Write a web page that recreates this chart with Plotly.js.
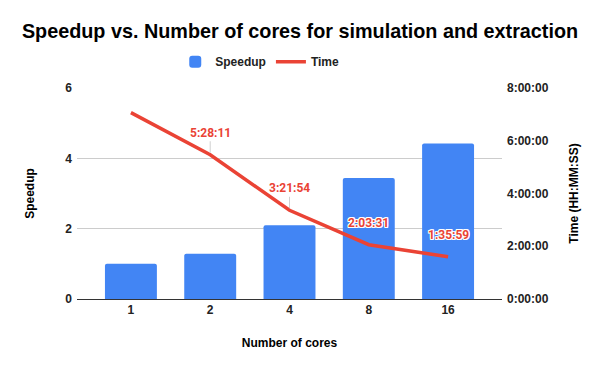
<!DOCTYPE html>
<html>
<head>
<meta charset="utf-8">
<script src="https://cdn.plot.ly/plotly-3.0.1.min.js"></script>
<style>
  html, body { margin: 0; padding: 0; background: #fff; }
  #myDiv { width: 600px; height: 371px; }
</style>
</head>
<body>
<div id="myDiv"></div>
<script>
// Datos
var cores = ['1', '2', '4', '8', '16'];
var speedup = [1.0, 1.29, 2.10, 3.44, 4.42];
var timeSec = [25440, 19691, 12114, 7411, 5759]; // segundos
var showLabel = [false, true, true, true, true];
var timeTicks = [0, 7200, 14400, 21600, 28800];

var speedMax = 6, timeMax = 28800;

// Funcion para pasar segundos a H:MM:SS
function hms(s) {
    var h = Math.floor(s / 3600),
        m = Math.floor((s % 3600) / 60),
        sec = Math.round(s % 60);
    return h + ':' + String(m).padStart(2, '0') + ':' + String(sec).padStart(2, '0');
}

var bold = 'Liberation Sans, Arial, sans-serif';

var traceBar = {
    x: cores,
    y: speedup,
    name: 'Speedup',
    type: 'bar',
    marker: { color: '#4285f4', cornerradius: 2 },
    hoverinfo: 'skip'
};
var traceLine = {
    x: cores,
    y: timeSec,
    name: 'Time',
    yaxis: 'y2',
    mode: 'lines',
    line: { color: '#ea4335', width: 3.5 },
    hoverinfo: 'skip'
};

// Etiquetas de tiempo (x por indice de categoria)
var annotations = [];
for (var i = 0; i < cores.length; i++) {
    if (!showLabel[i]) continue;
    var inside = timeSec[i] / timeMax < speedup[i] / speedMax;
    annotations.push({
        x: i,
        y: timeSec[i],
        xref: 'x',
        yref: 'y2',
        text: hms(timeSec[i]),
        showarrow: true,
        arrowhead: 0,
        arrowwidth: 1,
        arrowcolor: inside ? 'rgba(255,255,255,0)' : '#d0d0d0',
        ax: 0,
        ay: -22,
        standoff: 2,
        font: {
            family: 'Roboto, sans-serif',
            size: 12,
            weight: 'bold',
            color: '#ea4335',
            shadow: inside ? '1px 1px 0 #fff, -1px -1px 0 #fff, 1px -1px 0 #fff, -1px 1px 0 #fff, 0 1px 0 #fff, 0 -1px 0 #fff, 1px 0 0 #fff, -1px 0 0 #fff' : 'none'
        }
    });
}

var layout = {
    width: 600,
    height: 371,
    margin: { l: 77, r: 98, t: 88, b: 72 },
    paper_bgcolor: '#fff',
    plot_bgcolor: '#fff',
    title: {
        text: 'Speedup vs. Number of cores for simulation and extraction',
        font: { family: bold, size: 19.8, weight: 'bold', color: '#000' },
        x: 0.5,
        xanchor: 'center',
        y: 0.915,
        yanchor: 'middle'
    },
    showlegend: true,
    legend: {
        orientation: 'h',
        x: 0.43,
        xanchor: 'center',
        y: 1.125,
        yanchor: 'middle',
        font: { family: bold, size: 12, weight: 'bold', color: '#222' },
        itemwidth: 30
    },
    bargap: 0.345,
    xaxis: {
        type: 'category',
        range: [-0.68, 4.68],
        showgrid: false,
        showline: true,
        linecolor: '#333',
        linewidth: 1,
        ticks: '',
        tickfont: { family: bold, size: 12, weight: 'bold', color: '#222' },
        title: {
            text: 'Number of cores',
            font: { family: bold, size: 12, weight: 'bold', color: '#000' },
            standoff: 22
        },
        fixedrange: true
    },
    yaxis: {
        range: [0, speedMax],
        tickvals: [0, 2, 4, 6],
        showgrid: true,
        gridcolor: '#cccccc',
        zeroline: false,
        tickfont: { family: bold, size: 12, weight: 'bold', color: '#222' },
        ticklabelstandoff: 4,
        title: {
            text: 'Speedup',
            font: { family: bold, size: 12, weight: 'bold', color: '#000' },
            standoff: 28
        },
        fixedrange: true
    },
    yaxis2: {
        overlaying: 'y',
        side: 'right',
        range: [0, timeMax],
        tickvals: timeTicks,
        ticktext: timeTicks.map(hms),
        showgrid: false,
        zeroline: false,
        tickfont: { family: bold, size: 12, weight: 'bold', color: '#222' },
        ticklabelstandoff: 4,
        title: {
            text: 'Time (HH:MM:SS)',
            font: { family: bold, size: 12, weight: 'bold', color: '#000' },
            standoff: 21
        },
        fixedrange: true
    },
    annotations: annotations
};

var config = { staticPlot: true, responsive: false };

Plotly.newPlot('myDiv', [traceBar, traceLine], layout, config);
</script>
</body>
</html>
